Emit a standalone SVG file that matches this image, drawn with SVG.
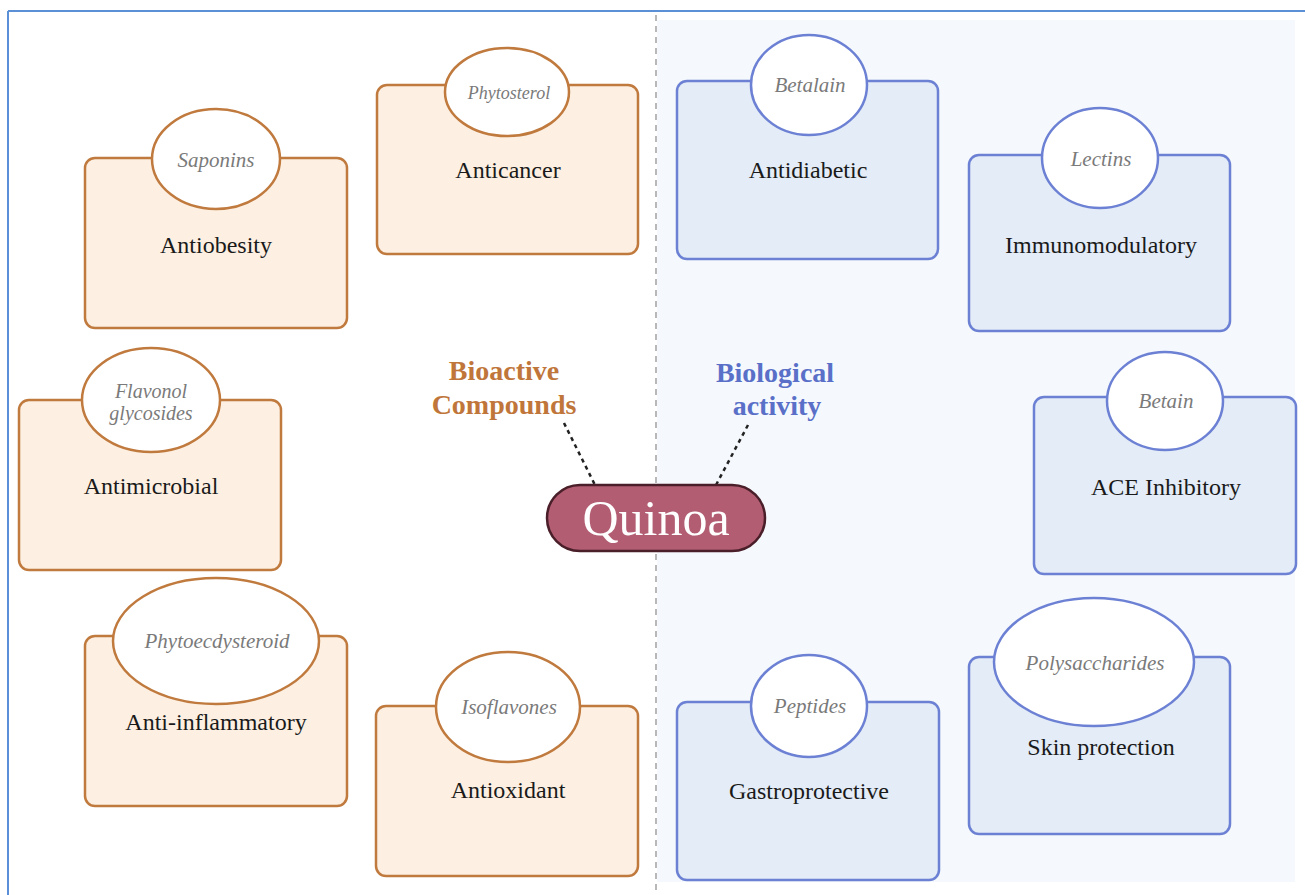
<svg xmlns="http://www.w3.org/2000/svg" width="1305" height="895" viewBox="0 0 1305 895">
<style>
.o rect{fill:#fdf0e2;stroke:#c07a3e;stroke-width:2.5}
.o ellipse{fill:#ffffff;stroke:#c07a3e;stroke-width:2.5}
.b rect{fill:#e3ecf7;stroke:#6c80d4;stroke-width:2.5}
.b ellipse{fill:#ffffff;stroke:#6c80d4;stroke-width:2.5}
.lab{font-family:"Liberation Serif","DejaVu Serif",serif;font-size:24px;fill:#1a1a1a;text-anchor:middle}
.cmp{font-family:"Liberation Serif","DejaVu Serif",serif;font-style:italic;font-size:21px;fill:#7a7a7a;text-anchor:middle}
.hd{font-family:"Liberation Serif","DejaVu Serif",serif;font-weight:bold;font-size:28px;text-anchor:middle}
.con{stroke:#222;stroke-width:2.5;stroke-dasharray:4 4;fill:none}
</style>
<rect x="0" y="0" width="1305" height="895" fill="#ffffff"/>
<rect x="657" y="20" width="638" height="862" fill="#f5f9fd"/>
<line x1="8" y1="11" x2="1305" y2="11" stroke="#5b8fd6" stroke-width="2"/>
<line x1="8" y1="11" x2="8" y2="895" stroke="#5b8fd6" stroke-width="2"/>
<line x1="656" y1="15" x2="656" y2="895" stroke="#b8b8b8" stroke-width="2" stroke-dasharray="6 5"/>

<g id="saponins" class="o">
<rect x="85" y="158" width="262" height="170" rx="10"/>
<ellipse cx="216" cy="159" rx="64" ry="50"/>
<text class="cmp" x="216" y="167">Saponins</text>
<text class="lab" x="216" y="253">Antiobesity</text>
</g>
<g id="phytosterol" class="o">
<rect x="377" y="85" width="261" height="169" rx="10"/>
<ellipse cx="507" cy="92" rx="62" ry="44"/>
<text class="cmp" x="509" y="99" style="font-size:18px">Phytosterol</text>
<text class="lab" x="508" y="178">Anticancer</text>
</g>
<g id="flavonol" class="o">
<rect x="19" y="400" width="262" height="170" rx="10"/>
<ellipse cx="151" cy="400" rx="69" ry="52"/>
<text class="cmp" x="151" y="398" style="font-size:20px">Flavonol</text>
<text class="cmp" x="151" y="420" style="font-size:20px">glycosides</text>
<text class="lab" x="151" y="494">Antimicrobial</text>
</g>
<g id="phytoecdysteroid" class="o">
<rect x="85" y="636" width="262" height="170" rx="10"/>
<ellipse cx="216" cy="641" rx="103" ry="63"/>
<text class="cmp" x="217" y="648">Phytoecdysteroid</text>
<text class="lab" x="216" y="730">Anti-inflammatory</text>
</g>
<g id="isoflavones" class="o">
<rect x="376" y="706" width="262" height="170" rx="10"/>
<ellipse cx="508" cy="707" rx="72" ry="55"/>
<text class="cmp" x="509" y="714">Isoflavones</text>
<text class="lab" x="508" y="798">Antioxidant</text>
</g>

<g id="betalain" class="b">
<rect x="677" y="81" width="261" height="178" rx="10"/>
<ellipse cx="809" cy="85" rx="58" ry="50"/>
<text class="cmp" x="810" y="92">Betalain</text>
<text class="lab" x="808" y="178">Antidiabetic</text>
</g>
<g id="lectins" class="b">
<rect x="969" y="155" width="261" height="176" rx="10"/>
<ellipse cx="1100" cy="158" rx="58" ry="50"/>
<text class="cmp" x="1101" y="166">Lectins</text>
<text class="lab" x="1101" y="253">Immunomodulatory</text>
</g>
<g id="betain" class="b">
<rect x="1034" y="397" width="262" height="177" rx="10"/>
<ellipse cx="1165" cy="401" rx="58" ry="49"/>
<text class="cmp" x="1166" y="408">Betain</text>
<text class="lab" x="1166" y="495">ACE Inhibitory</text>
</g>
<g id="peptides" class="b">
<rect x="677" y="702" width="262" height="178" rx="10"/>
<ellipse cx="809" cy="706" rx="58" ry="51"/>
<text class="cmp" x="810" y="713">Peptides</text>
<text class="lab" x="809" y="799">Gastroprotective</text>
</g>
<g id="polysaccharides" class="b">
<rect x="969" y="657" width="261" height="177" rx="10"/>
<ellipse cx="1094" cy="662" rx="100" ry="64"/>
<text class="cmp" x="1095" y="670">Polysaccharides</text>
<text class="lab" x="1101" y="755">Skin protection</text>
</g>

<g id="connectors">
<line class="con" x1="564" y1="423" x2="595" y2="485"/>
<line class="con" x1="748" y1="425" x2="716" y2="485"/>
</g>

<g id="bioactive">
<text class="hd" x="504" y="380" fill="#c0763a">Bioactive</text>
<text class="hd" x="504" y="414" fill="#c0763a">Compounds</text>
</g>
<g id="biological">
<text class="hd" x="775" y="382" fill="#5a70c8">Biological</text>
<text class="hd" x="777" y="415" fill="#5a70c8">activity</text>
</g>
<g id="quinoa">
<rect x="547" y="485" width="218" height="66" rx="33" fill="#b25d72" stroke="#4a1f2a" stroke-width="2.5"/>
<text x="656" y="535" font-family="Liberation Serif, DejaVu Serif, serif" font-size="50" fill="#ffffff" text-anchor="middle">Quinoa</text>
</g>
</svg>
